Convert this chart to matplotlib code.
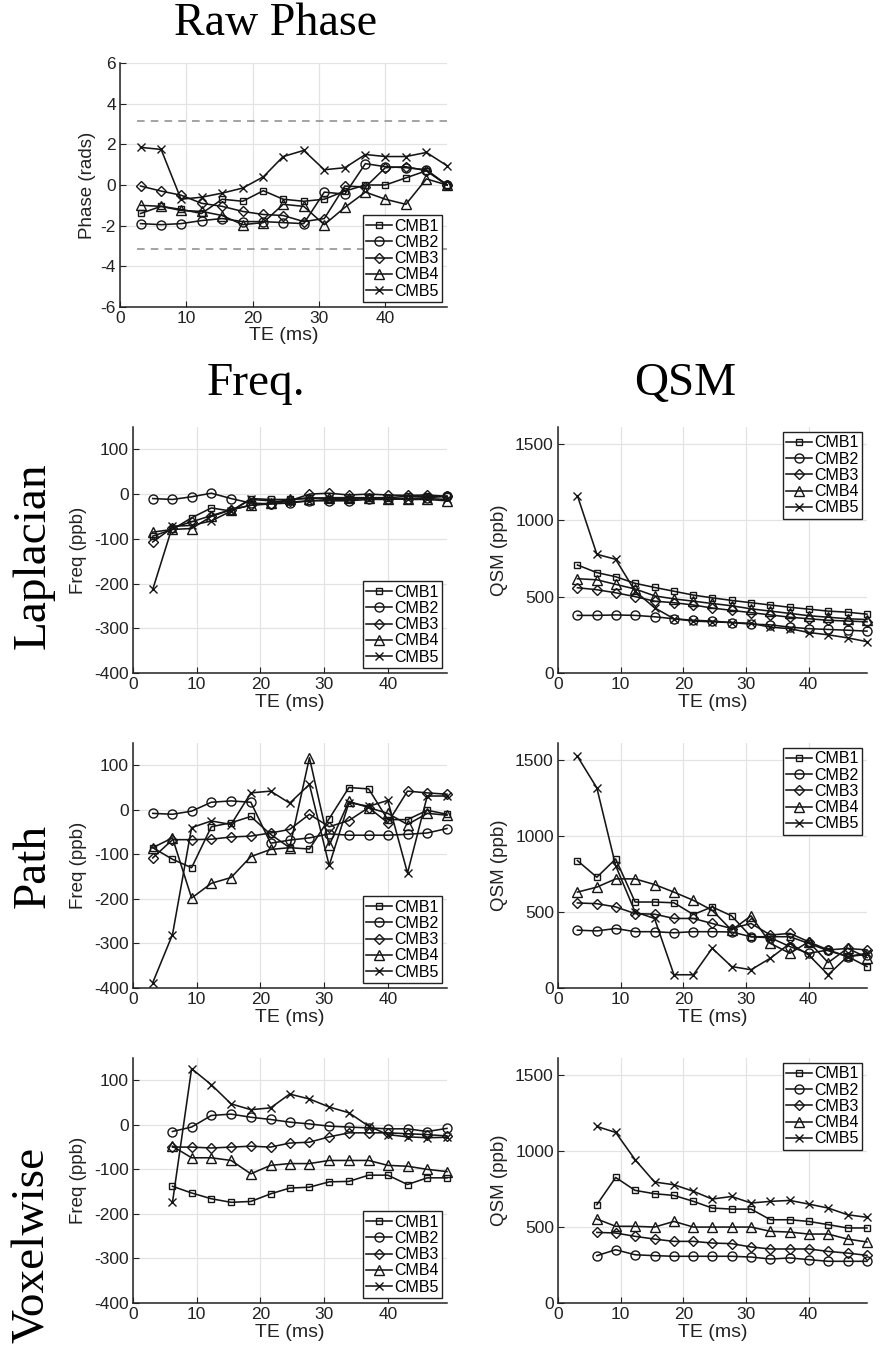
import numpy as np
import matplotlib
matplotlib.use("Agg")
import matplotlib.pyplot as plt

nan = np.nan

# ---------------- data ----------------
te_ms = [3.1, 6.2, 9.2, 12.3, 15.4, 18.5, 21.6, 24.6, 27.7, 30.8, 33.9, 37.0, 40.0, 43.1, 46.2, 49.3]
series_names = ["CMB1", "CMB2", "CMB3", "CMB4", "CMB5"]

raw_phase_cmb1 = [-1.4, -1.05, -1.2, -1.4, -0.7, -0.8, -0.28, -0.7, -0.8, -0.7, -0.3, 0.0, 0.0, 0.35, 0.7, 0.0]
raw_phase_cmb2 = [-1.9, -1.95, -1.9, -1.75, -1.65, -1.8, -1.8, -1.85, -1.9, -0.35, -0.45, 1.05, 0.9, 0.85, 0.75, 0.0]
raw_phase_cmb3 = [-0.05, -0.3, -0.5, -0.9, -1.05, -1.3, -1.45, -1.5, -1.8, -1.65, -0.05, -0.1, 0.85, 0.9, 0.7, 0.0]
raw_phase_cmb4 = [-1.0, -1.05, -1.25, -1.3, -1.5, -1.95, -1.85, -0.95, -1.05, -1.95, -1.1, -0.35, -0.7, -0.95, 0.3, 0.0]
raw_phase_cmb5 = [1.85, 1.75, -0.7, -0.6, -0.4, -0.15, 0.4, 1.4, 1.7, 0.75, 0.85, 1.5, 1.4, 1.4, 1.6, 0.95]

lap_freq_cmb1 = [-94, -79, -53, -31, -38, -10, -12, -12, -8, -10, -10, -8, -8, -5, -5, -5]
lap_freq_cmb2 = [-10, -12, -6, 2, -10, -20, -22, -20, -15, -15, -15, -12, -12, -10, -8, -5]
lap_freq_cmb3 = [-107, -75, -62, -48, -35, -25, -22, -15, 0, 2, -2, 0, -2, -3, -2, -5]
lap_freq_cmb4 = [-85, -79, -77, -50, -35, -25, -20, -12, -10, -8, -8, -8, -10, -12, -12, -15]
lap_freq_cmb5 = [-213, -72, -70, -60, -38, -12, -15, -18, -15, -12, -12, -10, -10, -10, -10, -12]

lap_qsm_cmb1 = [707, 657, 630, 587, 560, 535, 510, 492, 475, 460, 445, 430, 418, 405, 398, 385]
lap_qsm_cmb2 = [377, 377, 380, 377, 368, 355, 345, 340, 330, 320, 315, 300, 290, 285, 280, 274]
lap_qsm_cmb3 = [558, 545, 525, 500, 470, 460, 445, 425, 410, 395, 380, 365, 355, 345, 340, 335]
lap_qsm_cmb4 = [617, 610, 580, 550, 505, 485, 470, 455, 440, 420, 405, 390, 375, 365, 355, 350]
lap_qsm_cmb5 = [1160, 777, 744, 536, 427, 355, 340, 335, 330, 325, 300, 290, 265, 250, 230, 205]

path_freq_cmb1 = [-85, -111, -130, -38, -29, -15, -55, -85, -88, -20, 50, 47, -22, -22, -1, -10]
path_freq_cmb2 = [-8, -10, -3, 17, 20, 17, -75, -68, -63, -54, -57, -57, -57, -55, -52, -42]
path_freq_cmb3 = [-108, -67, -67, -66, -61, -59, -52, -44, -10, -38, -24, 5, -29, 42, 38, 35]
path_freq_cmb4 = [-85, -63, -198, -165, -152, -105, -89, -85, 117, -80, 19, 5, -8, -33, -8, -12]
path_freq_cmb5 = [-388, -280, -40, -25, -33, 38, 42, 15, 57, -125, 16, 8, 21, -142, 31, 31]

path_qsm_cmb1 = [837, 728, 848, 565, 565, 560, 483, 533, 474, 337, 337, 337, 293, 245, 207, 141]
path_qsm_cmb2 = [380, 375, 391, 370, 370, 363, 370, 370, 368, 337, 330, 272, 228, 250, 207, 220]
path_qsm_cmb3 = [559, 554, 533, 489, 485, 457, 457, 424, 391, 424, 348, 359, 304, 250, 260, 250]
path_qsm_cmb4 = [630, 663, 717, 717, 680, 630, 576, 511, 380, 474, 293, 228, 304, 167, 261, 200]
path_qsm_cmb5 = [1522, 1315, 804, 500, 457, 87, 87, 261, 141, 120, 196, 293, 217, 87, 207, 228]

vox_freq_cmb1 = [nan, -138, -153, -166, -174, -172, -155, -142, -140, -128, -127, -113, -113, -134, -119, -119]
vox_freq_cmb2 = [nan, -15, -5, 21, 24, 17, 12, 6, 2, -3, -5, -7, -9, -9, -15, -8]
vox_freq_cmb3 = [nan, -50, -50, -52, -50, -48, -50, -41, -39, -27, -18, -18, -18, -20, -22, -25]
vox_freq_cmb4 = [nan, -48, -74, -74, -80, -110, -91, -87, -87, -80, -80, -80, -91, -93, -100, -105]
vox_freq_cmb5 = [nan, -174, 126, 90, 47, 34, 38, 69, 58, 40, 27, -3, -22, -27, -29, -28]

vox_qsm_cmb1 = [nan, 646, 825, 740, 718, 707, 668, 624, 617, 617, 547, 547, 536, 515, 493, 493]
vox_qsm_cmb2 = [nan, 311, 350, 317, 311, 307, 307, 307, 307, 302, 289, 296, 285, 274, 274, 274]
vox_qsm_cmb3 = [nan, 464, 460, 438, 420, 405, 405, 394, 390, 368, 355, 355, 355, 339, 328, 313]
vox_qsm_cmb4 = [nan, 552, 504, 504, 499, 536, 499, 499, 499, 499, 471, 466, 453, 453, 420, 401]
vox_qsm_cmb5 = [nan, 1160, 1121, 942, 795, 777, 734, 683, 700, 657, 668, 674, 650, 624, 580, 563]

wrap_limit = np.pi

# ---------------- styling ----------------
SANS = ["Liberation Sans", "DejaVu Sans"]
SERIF = ["Liberation Serif", "DejaVu Serif"]
plt.rcParams["font.family"] = SANS
plt.rcParams["axes.unicode_minus"] = False
markers = ["s", "o", "D", "^", "x"]
msizes = [5, 6.5, 5.2, 6.5, 6]
LINE = "#151515"

W, H = 887, 1353
fig = plt.figure(figsize=(W / 100, H / 100), dpi=100)
fig.patch.set_facecolor("white")


def px_axes(left, right, top, bottom):
    return fig.add_axes([left / W, 1 - bottom / H, (right - left) / W, (bottom - top) / H])


def style(ax, ylim, yticks, ylabel, ylab_x, xlab_y):
    ax.set_xlim(0, te_ms[-1])
    ax.set_ylim(*ylim)
    ax.set_xticks([0, 10, 20, 30, 40])
    ax.set_yticks(yticks)
    ax.grid(True, color="#e3e3e3", linewidth=0.9)
    ax.set_axisbelow(True)
    for s in ["top", "right"]:
        ax.spines[s].set_visible(False)
    for s in ["left", "bottom"]:
        ax.spines[s].set_linewidth(1.1)
        ax.spines[s].set_color("#222222")
    ax.tick_params(direction="in", length=4, width=0.8, labelsize=12.5, colors="#222222", pad=3)
    ax.set_xlabel("TE (ms)", fontsize=14, color="#222222")
    ax.xaxis.set_label_coords(0.5, xlab_y)
    ax.set_ylabel(ylabel, fontsize=13.5, color="#222222")
    ax.yaxis.set_label_coords(ylab_x, 0.5)


def draw(ax, data, loc):
    handles = []
    for vals, m, ms, name in zip(data, markers, msizes, series_names):
        h, = ax.plot(te_ms, vals, color=LINE, lw=1.15, marker=m, ms=ms,
                     mfc="none", mec=LINE, mew=1.0, label=name, clip_on=False, zorder=3)
        handles.append(h)
    leg = ax.legend(handles=handles, loc=loc, fontsize=11.5, frameon=True, fancybox=False,
                    edgecolor="#222222", framealpha=1, handlelength=1.6, handletextpad=0.15,
                    labelspacing=0.08, borderpad=0.22, borderaxespad=0.3)
    leg.get_frame().set_linewidth(1.0)
    leg.set_zorder(5)


# Raw phase
ax = px_axes(120, 447, 63, 307)
ax.plot([te_ms[0] - 0.5, te_ms[-1]], [wrap_limit, wrap_limit], color="#8a8a8a", lw=1.1, ls=(0, (5, 4)), zorder=2)
ax.plot([te_ms[0] - 0.5, te_ms[-1]], [-wrap_limit, -wrap_limit], color="#8a8a8a", lw=1.1, ls=(0, (5, 4)), zorder=2)
draw(ax, [raw_phase_cmb1, raw_phase_cmb2, raw_phase_cmb3, raw_phase_cmb4, raw_phase_cmb5], "lower right")
style(ax, (-6, 6), [-6, -4, -2, 0, 2, 4, 6], "Phase (rads)", -0.074, -0.082)

rows = [
    ([lap_freq_cmb1, lap_freq_cmb2, lap_freq_cmb3, lap_freq_cmb4, lap_freq_cmb5],
     [lap_qsm_cmb1, lap_qsm_cmb2, lap_qsm_cmb3, lap_qsm_cmb4, lap_qsm_cmb5], 427, 673),
    ([path_freq_cmb1, path_freq_cmb2, path_freq_cmb3, path_freq_cmb4, path_freq_cmb5],
     [path_qsm_cmb1, path_qsm_cmb2, path_qsm_cmb3, path_qsm_cmb4, path_qsm_cmb5], 743, 988),
    ([vox_freq_cmb1, vox_freq_cmb2, vox_freq_cmb3, vox_freq_cmb4, vox_freq_cmb5],
     [vox_qsm_cmb1, vox_qsm_cmb2, vox_qsm_cmb3, vox_qsm_cmb4, vox_qsm_cmb5], 1058, 1303),
]

for freq_data, qsm_data, top, bottom in rows:
    axf = px_axes(133, 447, top, bottom)
    draw(axf, freq_data, "lower right")
    style(axf, (-400, 150), [-400, -300, -200, -100, 0, 100], "Freq (ppb)", -0.145, -0.085)
    axq = px_axes(558, 867, top, bottom)
    draw(axq, qsm_data, "upper right")
    style(axq, (0, 1610), [0, 500, 1000, 1500], "QSM (ppb)", -0.163, -0.085)

# Titles / row labels
fig.text(276 / W, 1 - 24 / H, "Raw Phase", family=SERIF, fontsize=33, ha="center", va="center")
fig.text(256 / W, 1 - 384 / H, "Freq.", family=SERIF, fontsize=34, ha="center", va="center")
fig.text(685 / W, 1 - 384 / H, "QSM", family=SERIF, fontsize=34, ha="center", va="center")
for label, yc in [("Laplacian", 556), ("Path", 866), ("Voxelwise", 1245)]:
    fig.text(33 / W, 1 - yc / H, label, family=SERIF, fontsize=34, ha="center", va="center", rotation=90)

fig.savefig("out.png", dpi=100, facecolor="white")
